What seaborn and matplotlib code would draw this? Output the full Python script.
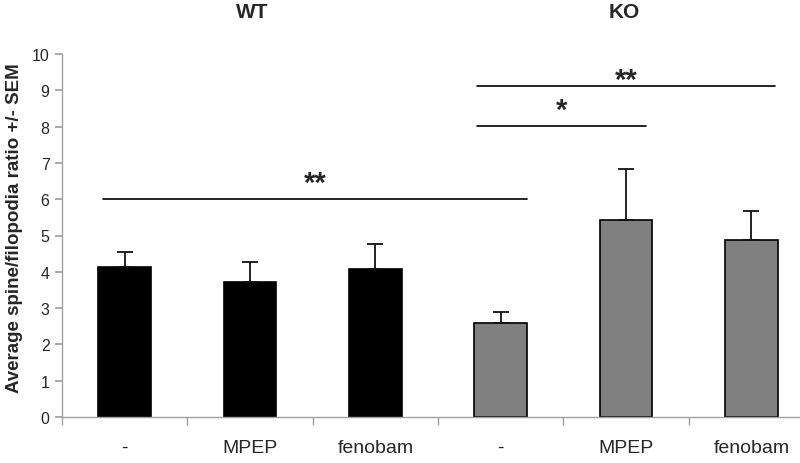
import matplotlib
matplotlib.use("Agg")
import matplotlib.pyplot as plt
import seaborn as sns
import pandas as pd
import numpy as np

# Data
categories = ["-", "MPEP", "fenobam", "-", "MPEP", "fenobam"]
groups = ["WT", "WT", "WT", "KO", "KO", "KO"]
means = [4.12, 3.72, 4.07, 2.58, 5.43, 4.88]
sems = [0.42, 0.55, 0.70, 0.30, 1.40, 0.79]
group_colors = {"WT": "#000000", "KO": "#808080"}

# Significance brackets
sig_start = [-0.17, 2.81, 2.81]
sig_end = [3.21, 4.16, 5.19]
sig_y = [6.0, 8.02, 9.12]
sig_labels = ["**", "*", "**"]
sig_label_y = [6.44, 8.46, 9.29]

sns.set_theme(style="white")
plt.rcParams["font.family"] = ["Liberation Sans", "DejaVu Sans"]

df = pd.DataFrame({"pos": [str(i) for i in range(len(means))], "mean": means, "group": groups})

fig = plt.figure(figsize=(8, 4.64), dpi=100)
ax = fig.add_axes([62 / 800, 1 - 418 / 464, 752 / 800, (418 - 55) / 464])

sns.barplot(data=df, x="pos", y="mean", hue="group", palette=group_colors,
            dodge=False, width=0.42, edgecolor="black", linewidth=1.2,
            legend=False, ax=ax, errorbar=None)

x = np.arange(len(means))
ax.errorbar(x, means, yerr=[np.zeros(len(sems)), sems], fmt="none",
            ecolor="#111111", elinewidth=1.3, capsize=6, capthick=1.3)

for s, e, y, ly, lab in zip(sig_start, sig_end, sig_y, sig_label_y, sig_labels):
    ax.plot([s, e], [y, y], color="black", lw=1.2, clip_on=False)
    ax.text((s + e) / 2, ly, lab, ha="center", va="center",
            fontsize=21, fontweight="bold")

ax.set_xlim(-0.5, len(means) - 0.5)
ax.set_ylim(0, 10)
ax.set_yticks(range(0, 11))
ax.tick_params(axis="y", labelsize=11.5, length=5, color="#a0a0a0", left=True, direction="out", pad=4)
ax.set_xticks(x)
ax.set_xticklabels(categories, fontsize=14)
ax.tick_params(axis="x", length=0, pad=16)
ax.set_xticks(np.arange(-0.5, len(means), 1), minor=True)
ax.tick_params(axis="x", which="minor", length=6, color="#a0a0a0", bottom=True, direction="out")

ax.set_xlabel("")
ax.set_ylabel("Average spine/filopodia ratio +/- SEM", fontsize=13.5, fontweight="bold")
ax.yaxis.set_label_coords(-0.052, 0.523)

for side in ["top", "right"]:
    ax.spines[side].set_visible(False)
for side in ["left", "bottom"]:
    ax.spines[side].set_color("#a0a0a0")
    ax.spines[side].set_linewidth(1.0)

ax.text(1.02, 11.18, "WT", ha="center", va="center", fontsize=15, fontweight="bold", clip_on=False)
ax.text(3.99, 11.18, "KO", ha="center", va="center", fontsize=15, fontweight="bold", clip_on=False)

fig.savefig("out.png", dpi=100)
